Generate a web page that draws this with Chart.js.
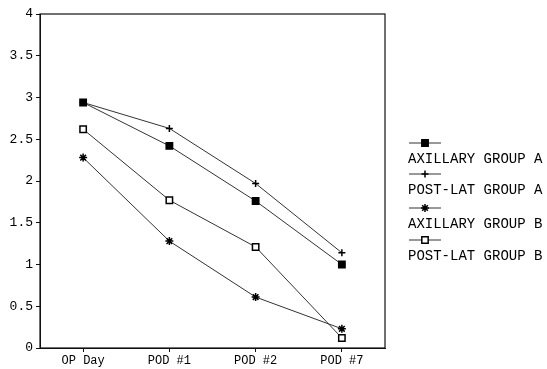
<!DOCTYPE html>
<html><head><meta charset="utf-8">
<script src="https://cdn.jsdelivr.net/npm/chart.js@4/dist/chart.umd.min.js"></script>
<style>html,body{margin:0;padding:0;background:#fff}#wrap{width:547px;height:369px}</style>
</head><body><div id="wrap"><canvas id="c" width="547" height="369"></canvas></div>
<script>
const categories = ["OP Day", "POD #1", "POD #2", "POD #7"];
const seriesNames = ["AXILLARY GROUP A", "POST-LAT GROUP A", "AXILLARY GROUP B", "POST-LAT GROUP B"];
const axillaryA = [2.94, 2.42, 1.76, 1.00];
const postLatA = [2.94, 2.63, 1.97, 1.14];
const axillaryB = [2.28, 1.28, 0.61, 0.23];
const postLatB = [2.62, 1.77, 1.21, 0.12];
const yTicks = [0, 0.5, 1, 1.5, 2, 2.5, 3, 3.5, 4];

const FONT = "'Liberation Mono', 'DejaVu Sans Mono', monospace";
const styles = [
  {pointStyle: 'rect', bg: '#000', r: 4.5},
  {pointStyle: 'cross', bg: '#000', r: 3.5},
  {pointStyle: 'star', bg: '#000', r: 4},
  {pointStyle: 'rect', bg: '#fff', r: 4.5}
];
const values = [axillaryA, postLatA, axillaryB, postLatB];

const datasets = values.map((v, i) => ({
  label: seriesNames[i],
  data: v,
  borderColor: '#333',
  borderWidth: 1,
  pointStyle: styles[i].pointStyle,
  pointRadius: styles[i].r,
  pointBackgroundColor: styles[i].bg,
  pointBorderColor: '#000',
  pointBorderWidth: 1.5,
  tension: 0,
  fill: false
}));

const frame = {
  id: 'frame',
  afterDatasetsDraw(chart) {
    const {ctx, chartArea: a} = chart;
    ctx.save();
    ctx.strokeStyle = '#111';
    ctx.lineWidth = 1.2;
    ctx.strokeRect(a.left, a.top, a.right - a.left, a.bottom - a.top);
    ctx.restore();
  }
};

const customLegend = {
  id: 'customLegend',
  afterDraw(chart) {
    const ctx = chart.ctx;
    const x0 = 409, lineW = 32;
    const markerY = [143, 174, 208, 240];
    ctx.save();
    chart.data.datasets.forEach((ds, i) => {
      const y = markerY[i];
      ctx.strokeStyle = '#333';
      ctx.lineWidth = 1;
      ctx.beginPath();
      ctx.moveTo(x0, y); ctx.lineTo(x0 + lineW, y);
      ctx.stroke();
      ctx.fillStyle = ds.pointBackgroundColor;
      ctx.strokeStyle = '#000';
      ctx.lineWidth = 1.5;
      Chart.helpers.drawPoint(ctx, {pointStyle: ds.pointStyle, radius: ds.pointRadius, rotation: 0, borderWidth: 1.5}, x0 + lineW / 2, y);
      ctx.fillStyle = '#000';
      ctx.font = "14px " + FONT;
      ctx.textBaseline = 'middle';
      ctx.textAlign = 'left';
      ctx.fillText(ds.label, x0 - 1, y + 16);
    });
    ctx.restore();
  }
};

new Chart(document.getElementById('c'), {
  type: 'line',
  data: {labels: categories, datasets},
  options: {
    responsive: false,
    animation: false,
    layout: {padding: {top: 14, right: 162, left: 0, bottom: 0}},
    plugins: {legend: {display: false}, tooltip: {enabled: false}},
    scales: {
      x: {
        offset: true,
        grid: {display: true, drawOnChartArea: false, drawTicks: true, tickLength: 4, color: '#111'},
        border: {display: true, color: '#111'},
        ticks: {color: '#000', font: {family: FONT, size: 12}, padding: 2, maxRotation: 0},
        afterFit(s) { s.height = 21; }
      },
      y: {
        min: 0, max: 4,
        afterBuildTicks(s) { s.ticks = yTicks.map(v => ({value: v})); },
        grid: {display: true, drawOnChartArea: false, drawTicks: true, tickLength: 4, color: '#111'},
        border: {display: true, color: '#111'},
        ticks: {color: '#000', font: {family: FONT, size: 13}, padding: 3, callback: v => String(v)},
        afterFit(s) { s.width = 40; }
      }
    }
  },
  plugins: [frame, customLegend]
});
</script>
</body></html>
